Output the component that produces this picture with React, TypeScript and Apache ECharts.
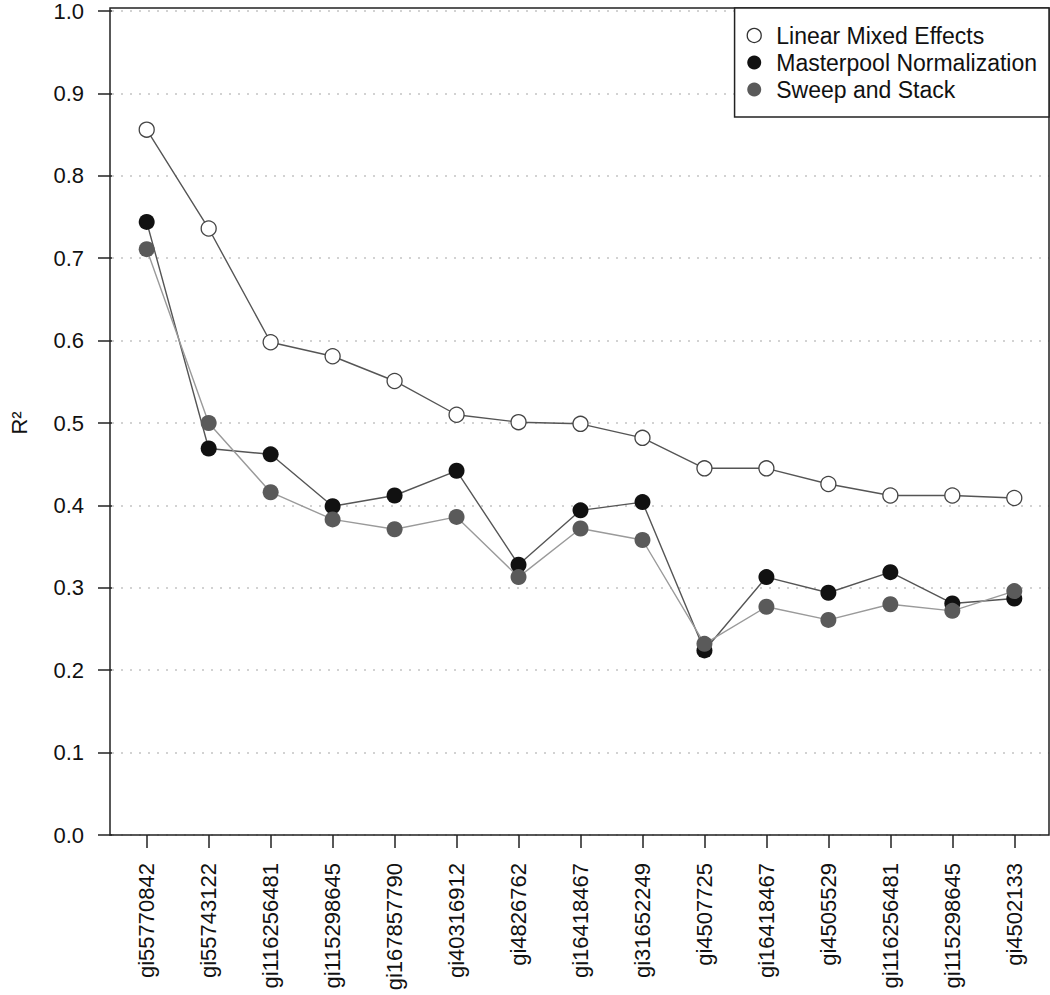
import React, { useEffect, useRef } from "react";
import * as echarts from "echarts";

const categories = [
  "gi55770842", "gi55743122", "gi116256481", "gi115298645", "gi167857790",
  "gi40316912", "gi4826762", "gi16418467", "gi31652249", "gi4507725",
  "gi16418467", "gi4505529", "gi116256481", "gi115298645", "gi4502133",
];
const linearMixedEffects = [0.856, 0.736, 0.598, 0.581, 0.551, 0.510, 0.501, 0.499, 0.482, 0.445, 0.445, 0.426, 0.412, 0.412, 0.409];
const masterpoolNormalization = [0.744, 0.469, 0.462, 0.399, 0.412, 0.442, 0.328, 0.394, 0.404, 0.224, 0.313, 0.294, 0.319, 0.281, 0.287];
const sweepAndStack = [0.711, 0.500, 0.416, 0.383, 0.371, 0.386, 0.313, 0.372, 0.358, 0.232, 0.277, 0.261, 0.280, 0.272, 0.296];
const yTicks = [0, 0.1, 0.2, 0.3, 0.4, 0.5, 0.6, 0.7, 0.8, 0.9, 1.0];
const xPositions = categories.map((_, i) => i + 1);

const FONT = "'Liberation Sans', Arial, Helvetica, sans-serif";

export default function App() {
  const ref = useRef<HTMLDivElement>(null);
  useEffect(() => {
    if (!ref.current) return;
    const chart = echarts.init(ref.current, undefined, { renderer: "svg" });
    const toPts = (arr: number[]) => arr.map((v, i) => [xPositions[i], v]);
    chart.setOption({
      animation: false,
      backgroundColor: "#fff",
      textStyle: { fontFamily: FONT },
      grid: { left: 110, top: 8, right: 1, bottom: 160, show: false },
      graphic: [
        {
          type: "rect", z: 100, silent: true,
          shape: { x: 110, y: 8, width: 939, height: 827 },
          style: { fill: "none", stroke: "#222", lineWidth: 1.5 },
        },
      ],
      legend: {
        right: 1, top: 8, orient: "vertical", z: 110,
        backgroundColor: "#fff", borderColor: "#222", borderWidth: 1.5,
        padding: [16, 12, 16, 12],
        itemGap: 4, itemWidth: 14, itemHeight: 14, icon: "circle",
        textStyle: { fontSize: 23, color: "#111", fontFamily: FONT, lineHeight: 22, padding: [0, 0, 0, 10] },
        data: [
          { name: "Linear Mixed Effects", itemStyle: { color: "#fff", borderColor: "#333", borderWidth: 1.3 } },
          { name: "Masterpool Normalization", itemStyle: { color: "#111" } },
          { name: "Sweep and Stack", itemStyle: { color: "#5a5a5a" } },
        ],
      },
      xAxis: {
        type: "value", min: 0.44, max: 15.56,
        splitLine: { show: false },
        axisLine: { show: false },
        axisTick: { show: true, length: 13, customValues: xPositions, lineStyle: { color: "#222", width: 1.5 } },
        axisLabel: {
          customValues: xPositions, rotate: 90, margin: 28, fontSize: 22, color: "#111", fontFamily: FONT,
          formatter: (v: number) => categories[Math.round(v) - 1] ?? "",
        },
      },
      yAxis: {
        type: "value", min: 0, max: 1, interval: 0.1,
        name: "R²", nameLocation: "middle", nameGap: 82, nameRotate: 90,
        nameTextStyle: { fontSize: 22, color: "#111", fontFamily: FONT },
        axisLine: { show: false },
        axisTick: { show: true, length: 14, lineStyle: { color: "#222", width: 1.5 } },
        axisLabel: {
          margin: 28, fontSize: 22, color: "#111", fontFamily: FONT,
          customValues: yTicks,
          formatter: (v: number) => v.toFixed(1),
        },
        splitLine: { show: true, lineStyle: { color: "#c4c4c4", width: 1.5, type: [2, 7] } },
      },
      series: [
        {
          name: "Linear Mixed Effects", type: "line", data: toPts(linearMixedEffects),
          symbol: "circle", symbolSize: 15,
          itemStyle: { color: "#fff", borderColor: "#444", borderWidth: 1.3 },
          lineStyle: { color: "#555", width: 1.4 },
        },
        {
          name: "Masterpool Normalization", type: "line", data: toPts(masterpoolNormalization),
          symbol: "circle", symbolSize: 16,
          itemStyle: { color: "#111", borderColor: "#111", borderWidth: 0 },
          lineStyle: { color: "#555", width: 1.4 },
        },
        {
          name: "Sweep and Stack", type: "line", data: toPts(sweepAndStack),
          symbol: "circle", symbolSize: 16,
          itemStyle: { color: "#5a5a5a", borderColor: "#5a5a5a", borderWidth: 0 },
          lineStyle: { color: "#9a9a9a", width: 1.4 },
        },
      ],
    });
    return () => chart.dispose();
  }, []);
  return (
    <div
      ref={ref}
      style={{ position: "fixed", left: 0, top: 0, width: 1050, height: 995, background: "#fff" }}
    />
  );
}
